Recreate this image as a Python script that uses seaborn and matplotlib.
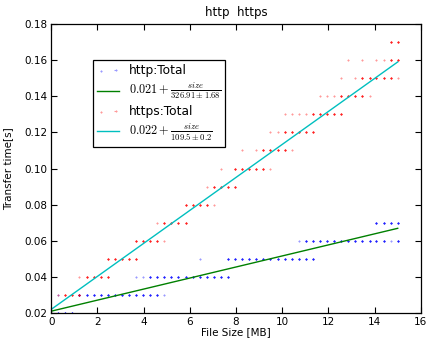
import matplotlib
matplotlib.use("Agg")
import matplotlib.pyplot as plt
import seaborn as sns
import pandas as pd

plt.rcParams["mathtext.fontset"] = "cm"
plt.rcParams["font.family"] = ["DejaVu Sans"]

# File sizes tested [MB] (index positions used below)
sizes_mb = [0.00, 0.31, 0.61, 0.92, 1.22, 1.53, 1.84, 2.14, 2.45, 2.76,
            3.06, 3.37, 3.67, 3.98, 4.29, 4.59, 4.90, 5.20, 5.51, 5.82,
            6.12, 6.43, 6.73, 7.04, 7.35, 7.65, 7.96, 8.27, 8.57, 8.88,
            9.18, 9.49, 9.80, 10.10, 10.41, 10.71, 11.02, 11.33, 11.63, 11.94,
            12.24, 12.55, 12.86, 13.16, 13.47, 13.78, 14.08, 14.39, 14.69, 15.00]

# Measured transfer times [s]: (time, size indices seen often, size indices seen once)
http_times = [0.02, 0.03, 0.04, 0.05, 0.06, 0.07]
http_often = [[0, 1, 2, 3],
              [4, 5, 6, 7, 8, 9, 10, 11, 12, 13, 14, 15],
              [14, 15, 16, 17, 18, 19, 20, 21, 22, 23, 24, 25],
              [25, 26, 27, 28, 29, 30, 31, 32, 33, 34, 35, 36, 37],
              [36, 37, 38, 39, 40, 41, 42, 43, 44, 45, 46, 47, 49],
              [46, 47, 48, 49]]
http_once = [[], [1, 16], [12, 13], [21], [35, 48], []]

https_times = [0.02, 0.03, 0.04, 0.05, 0.06, 0.07, 0.08, 0.09,
               0.10, 0.11, 0.12, 0.13, 0.14, 0.15, 0.16, 0.17]
https_often = [[0], [2, 3, 4], [5, 6, 7, 8], [8, 9, 10, 11, 12], [12, 13, 14, 15],
               [16, 17, 18, 19], [19, 20, 21, 22], [23, 24, 25, 26],
               [26, 27, 28, 29, 30], [30, 31, 32, 33], [33, 34, 35, 36, 37],
               [37, 38, 39, 40, 41], [41, 42, 43, 44], [44, 45, 46, 47, 48],
               [48, 49], [48, 49]]
https_once = [[], [1], [4], [], [16], [15], [23], [22], [24, 31], [27, 29, 34],
              [31, 32], [33, 34, 35, 36], [38, 39, 40, 45], [41, 43, 49],
              [42, 44, 46, 47], []]

# Fits: t = a + size / d
http_a, http_d = 0.021, 326.91
https_a, https_d = 0.022, 109.5
fit_range = [0.0, 15.0]


def build(times, often, once):
    rows = []
    for t, oi, si in zip(times, often, once):
        for i in oi:
            rows += [(sizes_mb[i], t)] * 4
        for i in si:
            rows.append((sizes_mb[i], t))
    return pd.DataFrame(rows, columns=["size", "time"])


df_http = build(http_times, http_often, http_once)
df_https = build(https_times, https_often, https_once)

fig = plt.figure(figsize=(4.28, 3.4), dpi=100)
ax = fig.add_axes([0.1196, 0.0794, 0.8636, 0.850])

pt = dict(marker="+", s=3.5, linewidth=0.8, alpha=0.4)
sns.scatterplot(data=df_http, x="size", y="time", color="#0000ff", ax=ax,
                label="http:Total", **pt)
sns.lineplot(x=fit_range, y=[http_a + x / http_d for x in fit_range], color="#008000",
             lw=1.0, ax=ax,
             label=r"$0.021+\frac{size}{326.91\pm1.68}$")
sns.scatterplot(data=df_https, x="size", y="time", color="#ff0000", ax=ax,
                label="https:Total", **pt)
sns.lineplot(x=fit_range, y=[https_a + x / https_d for x in fit_range], color="#00bfbf",
             lw=1.0, ax=ax,
             label=r"$0.022+\frac{size}{109.5\pm0.2}$")

ax.set_xlim(0, 16)
ax.set_ylim(0.02, 0.18)
ax.set_xticks(range(0, 17, 2))
ax.set_yticks([0.02, 0.04, 0.06, 0.08, 0.10, 0.12, 0.14, 0.16, 0.18])
ax.set_yticklabels(["%.2f" % v for v in [0.02, 0.04, 0.06, 0.08, 0.10, 0.12, 0.14, 0.16, 0.18]])
ax.tick_params(direction="in", top=True, right=True, length=4, width=0.8,
               labelsize=7.5, pad=3)
for sp in ax.spines.values():
    sp.set_color("black")
    sp.set_linewidth(0.9)

ax.set_xlabel("File Size [MB]", fontsize=7.5, labelpad=0)
ax.set_ylabel("Transfer time[s]", fontsize=7.5, labelpad=8)
ax.set_title("http  https", fontsize=8.5, pad=6)

leg = ax.legend(loc="upper left", bbox_to_anchor=(0.113, 0.875), scatterpoints=2,
                fancybox=False, edgecolor="black", framealpha=1, fontsize=8.8,
                borderaxespad=0, handlelength=1.8, labelspacing=0.3,
                borderpad=0.35)
leg.get_frame().set_linewidth(0.9)

fig.savefig("out.png", dpi=100, facecolor="white")
